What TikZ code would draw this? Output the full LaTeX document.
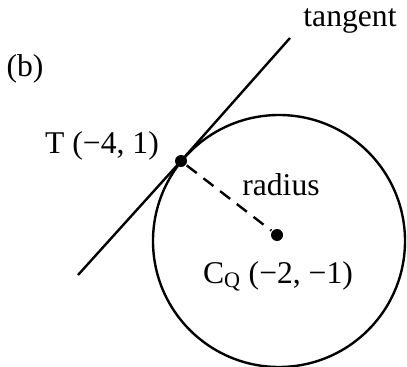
\documentclass[tikz,border=0pt]{standalone}
\usepackage{fontspec}
\setmainfont{Liberation Serif}
\usetikzlibrary{positioning}

\begin{document}
\begin{tikzpicture}[x=0.025cm, y=-0.025cm, line width=1.7pt,
    lbl/.style={font=\fontsize{22.5}{26}\selectfont, inner sep=0pt, anchor=base},
    pt/.style={circle, fill=black, inner sep=0pt, minimum size=0.3cm}]
  \useasboundingbox (0,0) rectangle (407,367);
  % Kreis, Mittelpunkt und Beruehrpunkt
  \coordinate (ctr) at (279,241);
  \draw (ctr) circle[radius=126];
  \node[pt] (tpt) at (181,161) {};
  \node[pt] (cq) at (277,235) {};
  % Tangente und Radius
  \coordinate (tlo) at (78,275);
  \coordinate (thi) at (290,38);
  \draw (tlo) -- (tpt.center) -- (thi);
  \draw[dashed, dash pattern=on 9pt off 6pt] (tpt) -- (cq);
  % Labels
  \node[lbl] (tang) at (350,27) {tangent};
  \node[lbl] (part) at (25,77) {(b)};
  \node[lbl] (tlbl) at (102,153) {T (−4, 1)};
  \node[lbl] (rad) at (281,195) {radius};
  \node[lbl] (clbl) at (278,283) {C\textsubscript{Q} (−2, −1)};
\end{tikzpicture}
\end{document}
